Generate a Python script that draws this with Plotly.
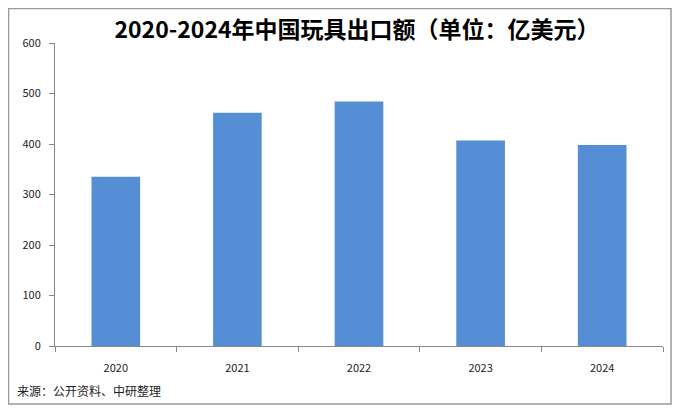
import plotly.graph_objects as go

years = ["2020", "2021", "2022", "2023", "2024"]
export_values = [335, 462, 484, 407, 398]
y_ticks = [0, 100, 200, 300, 400, 500, 600]

# page body has an 8px margin; work in reference pixel coords minus offset
OFF = 8
W, H = 680 - OFF, 412 - OFF
L = 55 - OFF
T = 43 - OFF
R = 680 - 663
B = 412 - 346
pw, ph = W - L - R, H - T - B

def px(x):
    return (x - OFF - L) / pw

def py(y):
    return (H - B - (y - OFF)) / ph

fig = go.Figure(go.Bar(
    x=years, y=export_values,
    marker=dict(color="#558ED5", line=dict(width=0)),
    width=0.4,
))

fig.update_layout(
    width=W, height=H,
    margin=dict(l=L, r=R, t=T, b=B),
    paper_bgcolor="white", plot_bgcolor="white",
    showlegend=False,
    font=dict(family="Noto Sans CJK SC, DejaVu Sans", size=11, color="#222"),
    title=dict(
        text="<b>2020-2024年中国玩具出口额（单位：亿美元）</b>",
        xref="container", yref="container",
        x=(357 - OFF) / W, xanchor="center", y=1 - (30 - OFF) / H, yanchor="middle",
        font=dict(size=23, color="#000", family="Noto Sans CJK SC"),
    ),
    xaxis=dict(
        showline=True, linecolor="#888", linewidth=1,
        ticks="outside", tickson="boundaries", ticklen=5, tickcolor="#888",
        tickfont=dict(size=11, color="#222"), showgrid=False,
        ticklabelstandoff=12,
    ),
    yaxis=dict(
        range=[0, 600], tickvals=y_ticks,
        showline=True, linecolor="#888", linewidth=1,
        ticks="outside", ticklen=5, tickcolor="#888",
        showgrid=False, zeroline=False,
        tickfont=dict(size=11, color="#222"),
        ticklabelstandoff=6,
    ),
    bargap=0.6,
)

fig.add_shape(type="rect", xref="paper", yref="paper",
              x0=px(OFF + 0.5), x1=px(671), y0=py(404), y1=py(OFF + 0.5),
              line=dict(color="#999", width=1.5), fillcolor="rgba(0,0,0,0)")

fig.add_annotation(text="来源：公开资料、中研整理", xref="paper", yref="paper",
                   x=px(15), y=py(390), xanchor="left", yanchor="middle",
                   showarrow=False, font=dict(size=12, color="#222"))

fig.write_html("out.html")
